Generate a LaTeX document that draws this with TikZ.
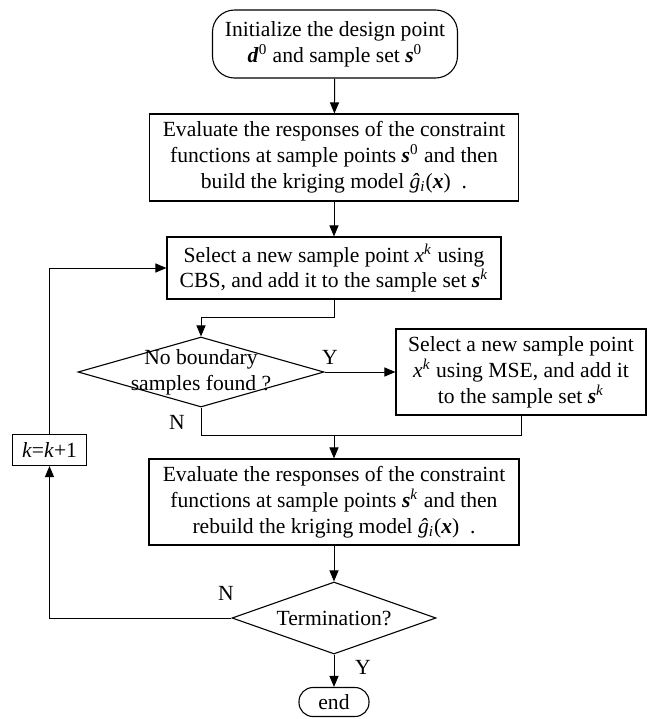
\documentclass[tikz,border=0pt]{standalone}
\usepackage{fontspec}
\setmainfont{Liberation Serif}
\usetikzlibrary{shapes.geometric,arrows.meta}
\newcommand{\bvec}[1]{\textbf{\textit{#1}}}

\begin{document}
\begin{tikzpicture}[x=0.5pt,y=-0.5pt]
        \tikzset{
            box/.style 2 args={
                draw,
                line width=0.55pt,
                align=center,
                inner sep=0pt,
                font=\fontsize{10.8}{12.9}\selectfont,
                minimum width=#1*0.5pt,
                minimum height=#2*0.5pt
            },
            decision/.style n args={3}{
                box={#1}{#2},
                diamond,
                label={[align=center, font=\fontsize{10.8}{12.9}\selectfont]center:#3}
            },
            arr/.style={-{Triangle[length=5.5pt,width=4.5pt]}, line width=0.5pt},
            lab/.style={font=\fontsize{10.8}{12.9}\selectfont}
        }
        \useasboundingbox (0,0) rectangle (649,719);

        % blocos
        \node[box={245}{68}, rounded corners=11pt] (start) at (335,44)
            {Initialize the design point\\ \bvec{d}\textsuperscript{0} and sample set \bvec{s}\textsuperscript{0}};
        \node[box={369}{87}] (eval0) at (334,157.5)
            {Evaluate the responses of the constraint\\ functions at sample points \bvec{s}\textsuperscript{0} and then\\ build the kriging model \textit{ĝ}\textsubscript{\textit{i}}(\bvec{x})\ \ .};
        \node[box={334}{62}] (cbs) at (334,268)
            {Select a new sample point \textit{x}\textsuperscript{\textit{k}} using\\ CBS, and add it to the sample set \bvec{s}\textsuperscript{\textit{k}}};
        \node[decision={246}{70}{No boundary\\ samples found ?}] (dec1) at (201,372) {};
        \node[box={250}{86}] (mse) at (521,372)
            {Select a new sample point\\ \textit{x}\textsuperscript{\textit{k}} using MSE, and add it\\ to the sample set \bvec{s}\textsuperscript{\textit{k}}};
        \node[box={370}{86}] (eval1) at (334,502)
            {Evaluate the responses of the constraint\\ functions at sample points \bvec{s}\textsuperscript{\textit{k}} and then\\ rebuild the kriging model \textit{ĝ}\textsubscript{\textit{i}}(\bvec{x})\ \ .};
        \node[decision={204}{72}{Termination?}] (dec2) at (334,618) {};
        \node[box={70}{29}, rounded corners=7pt] (end) at (334,702) {end};
        \node[box={74}{31}] (kbox) at (49.5,450) {\textit{k}=\textit{k}+1};

        % pontos de juncao
        \coordinate (j1) at (334,317);
        \coordinate (j2) at (334,435);

        % ligacoes
        \draw[arr] (start) -- (eval0);
        \draw[arr] (eval0) -- (cbs);
        \draw[arr] (cbs.south) -- (j1) -| (dec1.north);
        \draw[arr] (dec1.east) -- (mse.west);
        \draw[line width=0.5pt] (dec1.south) |- (j2);
        \draw[line width=0.5pt] (mse.south) |- (j2);
        \draw[arr] (j2) -- (eval1.north);
        \draw[arr] (eval1) -- (dec2);
        \draw[arr] (dec2.south) -- (end.north);
        \draw[arr] (dec2.west) -| (kbox.south);
        \draw[arr] (kbox.north) |- (cbs.west);

        % rotulos
        \node[lab] (y1) at (330,357) {Y};
        \node[lab] (n1) at (177,422) {N};
        \node[lab] (n2) at (226,593) {N};
        \node[lab] (y2) at (363,667) {Y};

    \end{tikzpicture}
\end{document}
